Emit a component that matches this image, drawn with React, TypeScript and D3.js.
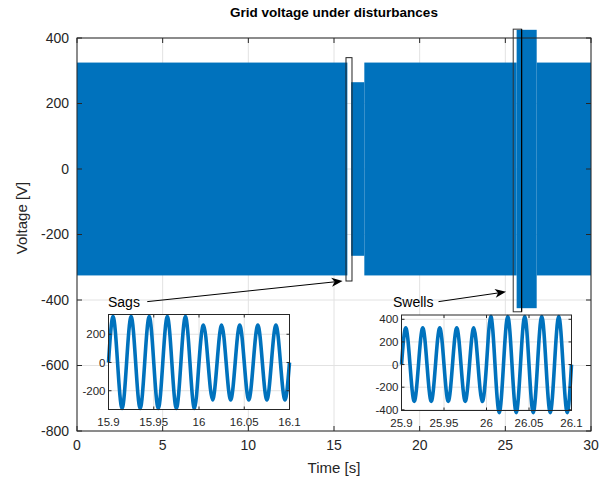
import React from 'react';
import * as d3 from 'd3';

// Envelope segments of the 50 Hz grid voltage (main plot, solid band)
const segStart = [0, 16.0, 16.77, 25.66, 26.83];
const segEnd = [15.78, 16.77, 25.66, 26.83, 30];
const segAmp = [325, 265, 325, 425, 325];

const xTicks = [0, 5, 10, 15, 20, 25, 30];
const yTicks = [-800, -600, -400, -200, 0, 200, 400];

// Inset data: peak value of each half cycle (50 Hz => 0.01 s per half cycle)
const sagT0 = 15.9;
const sagPeaks = [325, 325, 325, 325, 325, 325, 325, 325, 325, 325, 265, 265, 265, 265, 265, 265, 265, 265, 265, 265];
const sagXTicks = [15.9, 15.95, 16, 16.05, 16.1];
const sagXLabels = ['15.9', '15.95', '16', '16.05', '16.1'];
const sagYTicks = [-200, 0, 200];

const swellT0 = 25.9;
const swellPeaks = [325, 325, 325, 325, 325, 325, 325, 325, 325, 325, 425, 425, 425, 425, 425, 425, 425, 425, 425, 425];
const swellXTicks = [25.9, 25.95, 26, 26.05, 26.1];
const swellXLabels = ['25.9', '25.95', '26', '26.05', '26.1'];
const swellYTicks = [-400, -200, 0, 200, 400];

const BLUE = '#0072BD';
const INK = '#262626';
const GRID = '#e2e2e2';
const FONT = 'Liberation Sans, Arial, Helvetica, sans-serif';

function wavePoints(t0: number, peaks: number[]): [number, number][] {
  const pts: [number, number][] = [[t0, 0]];
  peaks.forEach((p, h) => {
    const sign = h % 2 === 0 ? 1 : -1;
    pts.push([t0 + h * 0.01 + 0.005, sign * p]);
    pts.push([t0 + (h + 1) * 0.01, 0]);
  });
  return pts;
}

type InsetProps = {
  x0: number; x1: number; y0: number; y1: number;
  xDomain: [number, number]; yDomain: [number, number];
  t0: number; peaks: number[];
  xTicks: number[]; xLabels: string[]; yTicks: number[];
};

function Inset(p: InsetProps) {
  const sx = d3.scaleLinear(p.xDomain, [p.x0, p.x1]);
  const sy = d3.scaleLinear(p.yDomain, [p.y1, p.y0]);
  const line = d3.line<[number, number]>().x(d => sx(d[0])).y(d => sy(d[1])).curve(d3.curveNatural);
  const pts = wavePoints(p.t0, p.peaks);
  return (
    <g>
      <rect x={p.x0} y={p.y0} width={p.x1 - p.x0} height={p.y1 - p.y0} fill="#fff" />
      {p.xTicks.map(t => (
        <line key={'gx' + t} x1={sx(t)} x2={sx(t)} y1={p.y0} y2={p.y1} stroke={GRID} strokeWidth={1} />
      ))}
      {p.yTicks.map(t => (
        <line key={'gy' + t} x1={p.x0} x2={p.x1} y1={sy(t)} y2={sy(t)} stroke={GRID} strokeWidth={1} />
      ))}
      <path d={line(pts) || ''} fill="none" stroke={BLUE} strokeWidth={3.6} />
      <rect x={p.x0} y={p.y0} width={p.x1 - p.x0} height={p.y1 - p.y0} fill="none" stroke={INK} strokeWidth={1} />
      {p.xTicks.map(t => (
        <g key={'tx' + t}>
          <line x1={sx(t)} x2={sx(t)} y1={p.y1} y2={p.y1 - 3} stroke={INK} />
          <line x1={sx(t)} x2={sx(t)} y1={p.y0} y2={p.y0 + 3} stroke={INK} />
        </g>
      ))}
      {p.yTicks.map(t => (
        <g key={'ty' + t}>
          <line x1={p.x0} x2={p.x0 + 3} y1={sy(t)} y2={sy(t)} stroke={INK} />
          <line x1={p.x1} x2={p.x1 - 3} y1={sy(t)} y2={sy(t)} stroke={INK} />
          <text x={p.x0 - 3} y={sy(t)} dy="0.35em" textAnchor="end" fontSize={11.5} fill={INK} fontFamily={FONT}>{t}</text>
        </g>
      ))}
      {p.xTicks.map((t, i) => (
        <text key={'lx' + t} x={sx(t)} y={p.y1 + 16} textAnchor="middle" fontSize={11.5} fill={INK} fontFamily={FONT}>{p.xLabels[i]}</text>
      ))}
    </g>
  );
}

function Arrow({ x1, y1, x2, y2 }: { x1: number; y1: number; x2: number; y2: number }) {
  const ang = Math.atan2(y2 - y1, x2 - x1);
  const L = 11, W = 4.5, back = 8;
  const bx = x2 - L * Math.cos(ang), by = y2 - L * Math.sin(ang);
  const nx = -Math.sin(ang), ny = Math.cos(ang);
  const mx = x2 - back * Math.cos(ang), my = y2 - back * Math.sin(ang);
  const head = `M${x2},${y2} L${bx + nx * W},${by + ny * W} L${mx},${my} L${bx - nx * W},${by - ny * W} Z`;
  return (
    <g>
      <line x1={x1} y1={y1} x2={mx} y2={my} stroke="#000" strokeWidth={1} />
      <path d={head} fill="#000" />
    </g>
  );
}

export default function App() {
  const L = 77, R = 591, T = 38, B = 431;
  const x = d3.scaleLinear([0, 30], [L, R]);
  const y = d3.scaleLinear([-800, 400], [B, T]);

  return (
    <svg width={603} height={485} style={{ position: 'absolute', left: 0, top: 0, background: '#fff' }} fontFamily={FONT}>
      <rect x={0} y={0} width={603} height={485} fill="#fff" />
      {/* grid */}
      {xTicks.map(t => (
        <line key={'gx' + t} x1={x(t)} x2={x(t)} y1={T} y2={B} stroke={GRID} strokeWidth={1} />
      ))}
      {yTicks.map(t => (
        <line key={'gy' + t} x1={L} x2={R} y1={y(t)} y2={y(t)} stroke={GRID} strokeWidth={1} />
      ))}
      {/* signal band */}
      {segStart.map((s, i) => (
        <rect key={'seg' + i} x={x(s)} y={y(segAmp[i])} width={x(segEnd[i]) - x(s)} height={y(-segAmp[i]) - y(segAmp[i])} fill={BLUE} />
      ))}
      {/* axes box */}
      <rect x={L} y={T} width={R - L} height={B - T} fill="none" stroke={INK} strokeWidth={1} />
      {xTicks.map(t => (
        <g key={'tx' + t}>
          <line x1={x(t)} x2={x(t)} y1={B} y2={B - 5} stroke={INK} />
          <line x1={x(t)} x2={x(t)} y1={T} y2={T + 5} stroke={INK} />
          <text x={x(t)} y={B + 19} textAnchor="middle" fontSize={14} fill={INK}>{t}</text>
        </g>
      ))}
      {yTicks.map(t => (
        <g key={'ty' + t}>
          <line x1={L} x2={L + 5} y1={y(t)} y2={y(t)} stroke={INK} />
          <line x1={R} x2={R - 5} y1={y(t)} y2={y(t)} stroke={INK} />
          <text x={L - 8} y={y(t)} dy="0.35em" textAnchor="end" fontSize={14} fill={INK}>{t}</text>
        </g>
      ))}
      {/* zoom boxes */}
      <rect x={x(15.70)} y={y(340)} width={x(16.05) - x(15.70)} height={y(-342) - y(340)} fill="none" stroke="#222" strokeWidth={1} />
      <rect x={x(25.46)} y={y(427)} width={x(25.95) - x(25.46)} height={y(-436) - y(427)} fill="none" stroke="#333" strokeWidth={1} />
      <line x1={x(25.95)} x2={x(25.95)} y1={y(427)} y2={y(-436)} stroke="#000" strokeWidth={1.2} />

      {/* insets */}
      <Inset x0={108.5} x1={289.5} y0={314.5} y1={409.5} xDomain={[15.9, 16.1]} yDomain={[-333, 340]}
        t0={sagT0} peaks={sagPeaks} xTicks={sagXTicks} xLabels={sagXLabels} yTicks={sagYTicks} />
      <Inset x0={401.5} x1={571.5} y0={315} y1={410.5} xDomain={[25.9, 26.1]} yDomain={[-406, 438]}
        t0={swellT0} peaks={swellPeaks} xTicks={swellXTicks} xLabels={swellXLabels} yTicks={swellYTicks} />

      {/* annotations */}
      <text x={108} y={307} fontSize={14} fill="#000">Sags</text>
      <Arrow x1={x(4.1)} y1={y(-405)} x2={x(15.5)} y2={y(-342)} />
      <text x={393} y={307} fontSize={14} fill="#000">Swells</text>
      <Arrow x1={x(21.1)} y1={y(-405)} x2={x(25.04)} y2={y(-375)} />

      {/* labels */}
      <text x={334} y={17} textAnchor="middle" fontSize={13.5} fontWeight="bold" fill="#000">Grid voltage under disturbances</text>
      <text x={334} y={473} textAnchor="middle" fontSize={15} fill={INK}>Time [s]</text>
      <text transform="translate(27,218) rotate(-90)" textAnchor="middle" fontSize={15} fill={INK}>Voltage [V]</text>
    </svg>
  );
}
